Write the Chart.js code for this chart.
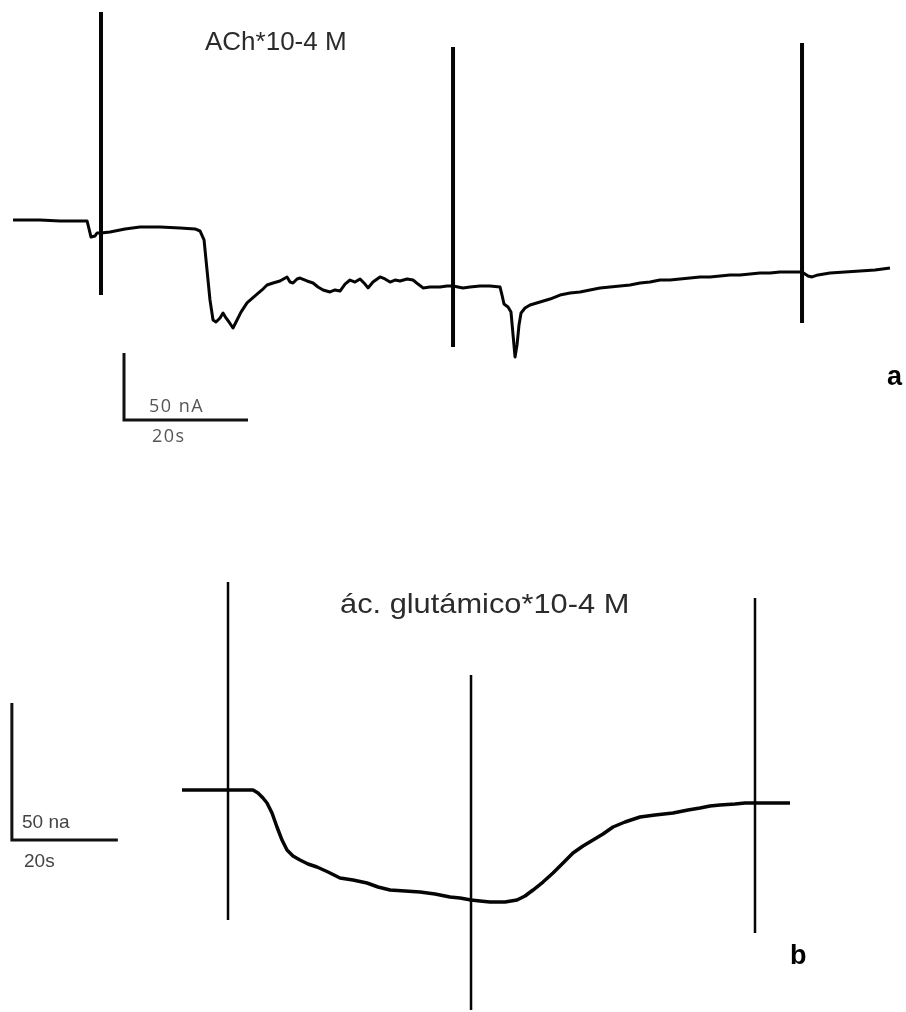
<!DOCTYPE html>
<html>
<head>
<meta charset="utf-8">
<script src="https://cdn.jsdelivr.net/npm/chart.js@4.4.0/dist/chart.umd.min.js"></script>
<style>
  body { margin: 0; background: #fff; }
  #page { position: relative; width: 906px; height: 1012px; overflow: hidden; }
  canvas { position: absolute; left: 0; }
  .lbl { position: absolute; white-space: nowrap; line-height: 1; font-family: "Liberation Sans", Arial, sans-serif; }
</style>
</head>
<body>
<div id="page">
  <canvas id="panelA" width="906" height="470" style="top:0"></canvas>
  <canvas id="panelB" width="906" height="542" style="top:470px"></canvas>

  <div class="lbl" style="left:205px; top:28px; font-size:26px; color:#2b2b2b;">ACh*10-4 M</div>
  <div class="lbl" style="left:149px; top:396px; font-size:18px; color:#555; font-family:'Open Sans',sans-serif; letter-spacing:1.5px;">50 nA</div>
  <div class="lbl" style="left:152px; top:426px; font-size:18px; color:#555; font-family:'Open Sans',sans-serif; letter-spacing:1.5px;">20s</div>
  <div class="lbl" style="left:887px; top:363px; font-size:27px; font-weight:bold; color:#000;">a</div>

  <div class="lbl" style="left:340px; top:590px; font-size:28px; color:#2b2b2b; transform:scaleX(1.1); transform-origin:left top;">ác. glutámico*10-4 M</div>
  <div class="lbl" style="left:22px; top:812px; font-size:19px; color:#444;">50 na</div>
  <div class="lbl" style="left:24px; top:851px; font-size:19px; color:#444;">20s</div>
  <div class="lbl" style="left:790px; top:942px; font-size:27px; font-weight:bold; color:#000;">b</div>
</div>

<script>
// --- panel a: ACh 10-4 M (time in s, current in nA, baseline = 0) ---
const achTime = [
  0, 4.35, 7.58, 11.94, 12.26, 12.58, 13.23, 13.55, 14.19, 15.65,
  18.06, 20.48, 23.71, 26.94, 29.35, 30.16, 30.81, 31.29, 31.77, 32.26,
  32.74, 33.39, 33.87, 34.35, 34.84, 35.48, 35.97, 36.77, 37.74, 39.03,
  40.16, 40.97, 41.94, 43.06, 44.19, 44.68, 45.16, 45.81, 46.29, 47.42,
  48.39, 49.19, 50.0, 51.13, 51.94, 52.74, 53.55, 54.35, 55.16, 55.97,
  56.77, 57.26, 58.06, 59.19, 60.0, 60.81, 61.61, 62.42, 63.55, 64.52,
  65.32, 66.13, 67.26, 68.87, 70.0, 70.97, 72.58, 73.71, 75.32, 76.94,
  78.55, 78.87, 79.19, 79.84, 80.32, 80.65, 80.97, 81.29, 81.61, 81.94,
  82.58, 83.39, 85.0, 86.61, 88.23, 89.84, 91.45, 93.06, 94.68, 96.29,
  97.90, 99.52, 101.13, 102.74, 104.35, 105.97, 107.58, 109.19, 110.81, 112.42,
  114.03, 115.65, 117.26, 118.87, 120.48, 122.10, 123.71, 125.32, 126.94, 127.26,
  128.23, 128.87, 129.84, 131.77, 134.19, 136.61, 139.03, 141.45
];
const achCurrent = [
  0, 0, -0.7, -0.7, -6.7, -12.7, -11.9, -9.7, -9.7, -9.0,
  -6.7, -5.2, -5.2, -6.0, -6.7, -8.2, -14.9, -37.3, -59.7, -74.6,
  -76.1, -73.1, -69.4, -73.1, -76.1, -80.6, -76.1, -68.7, -61.9, -56.7,
  -52.2, -48.5, -47.0, -45.5, -42.5, -46.3, -47.0, -44.0, -43.3, -45.5,
  -47.0, -50.0, -52.2, -53.7, -52.2, -53.0, -47.8, -44.8, -46.3, -44.0,
  -47.8, -50.7, -46.3, -42.5, -44.0, -46.3, -44.8, -45.5, -44.0, -44.8,
  -47.8, -50.7, -50.0, -50.0, -49.3, -49.3, -50.7, -50.0, -49.3, -49.3,
  -50.0, -56.0, -62.7, -64.9, -68.7, -85.8, -102.2, -93.3, -78.4, -69.4,
  -65.7, -63.4, -61.2, -59.0, -56.0, -54.5, -53.7, -52.2, -50.7, -50.0,
  -49.3, -48.5, -47.0, -46.3, -44.8, -44.8, -44.0, -43.3, -42.5, -42.5,
  -41.8, -41.0, -41.0, -40.3, -39.6, -39.6, -38.8, -38.8, -38.8, -38.8,
  -41.8, -42.5, -41.0, -39.6, -38.8, -38.1, -37.3, -35.8
];
// stimulus artefacts
const achSpikeTime = [14.19, 70.97, 127.26];
const achSpikeTop = [155.2, 129.1, 132.1];
const achSpikeBottom = [-56.0, -94.8, -76.9];
// calibration bar 50 nA / 20 s
const achBarTime = [17.9, 17.9, 37.9];
const achBarCurrent = [-99.3, -149.3, -149.3];

// --- panel b: glutamic acid 10-4 M ---
const gluTime = [
  0, 3.40, 8.68, 13.40, 14.34, 15.28, 16.04, 16.98, 17.92, 18.87,
  19.81, 20.94, 22.26, 23.77, 25.47, 27.55, 29.81, 32.26, 34.91, 36.98,
  39.25, 42.08, 44.91, 47.74, 50.57, 52.45, 54.53, 56.23, 58.11, 60.94,
  63.21, 64.72, 66.23, 68.11, 70.0, 71.89, 73.77, 75.66, 77.55, 79.43,
  81.32, 83.58, 86.42, 89.25, 92.64, 95.47, 97.74, 99.62, 101.51, 104.34,
  106.23, 108.11, 110.94, 114.72
];
const gluCurrent = [
  0, 0, 0, 0, -1.09, -2.92, -4.74, -8.39, -13.5, -18.25,
  -21.9, -24.09, -25.55, -27.01, -28.10, -29.93, -32.12, -32.85, -33.94, -35.40,
  -36.50, -36.86, -37.23, -37.96, -39.05, -39.42, -40.15, -40.51, -40.88, -40.88,
  -40.15, -38.69, -36.50, -33.58, -30.29, -26.64, -22.99, -20.44, -18.25, -16.06,
  -13.5, -11.68, -9.85, -9.12, -8.39, -7.30, -6.57, -5.84, -5.47, -5.11,
  -4.74, -4.74, -4.74, -4.74
];
const gluSpikeTime = [8.68, 54.53, 108.11];
const gluSpikeTop = [75.9, 42.0, 70.1];
const gluSpikeBottom = [-47.4, -80.3, -52.2];
const gluBarTime = [-32.1, -32.1, -12.1];
const gluBarCurrent = [31.75, -18.25, -18.25];

function toPoints(xs, ys) {
    return xs.map((x, i) => ({ x: x, y: ys[i] }));
}

// each artefact is a vertical segment, separated by a gap
function spikePoints(times, tops, bottoms) {
    let pts = [];
    times.forEach((t, i) => {
        pts.push({ x: t, y: tops[i] }, { x: t, y: bottoms[i] }, { x: t, y: null });
    });
    return pts;
}

function drawPanel(canvas, trace, spikes, bar, xRange, yRange, traceWidth, spikeWidth) {
    let ctx = canvas.getContext('2d');
    let chart = new Chart(ctx, {
        type: 'line',
        data: {
            datasets: [
                {
                    label: 'trace',
                    data: trace,
                    borderColor: '#050505',
                    borderWidth: traceWidth,
                    borderJoinStyle: 'round',
                    pointRadius: 0,
                    tension: 0,
                    fill: false,
                },
                {
                    label: 'stimulus',
                    data: spikes,
                    borderColor: '#050505',
                    borderWidth: spikeWidth,
                    borderCapStyle: 'butt',
                    pointRadius: 0,
                    spanGaps: false,
                    fill: false,
                },
                {
                    label: 'scale',
                    data: bar,
                    borderColor: '#111',
                    borderWidth: 3,
                    borderJoinStyle: 'miter',
                    pointRadius: 0,
                    tension: 0,
                    fill: false,
                }
            ]
        },
        options: {
            responsive: false,
            animation: false,
            devicePixelRatio: 1,
            events: [],
            layout: { padding: 0 },
            plugins: {
                legend: { display: false },
                tooltip: { enabled: false },
            },
            scales: {
                x: { type: 'linear', display: false, min: xRange[0], max: xRange[1] },
                y: { type: 'linear', display: false, min: yRange[0], max: yRange[1] },
            }
        }
    });
    canvas.chart = chart;
}

drawPanel(document.getElementById('panelA'),
    toPoints(achTime, achCurrent),
    spikePoints(achSpikeTime, achSpikeTop, achSpikeBottom),
    toPoints(achBarTime, achBarCurrent),
    [-2.10, 144.03], [-186.57, 164.18], 3, 4);

drawPanel(document.getElementById('panelB'),
    toPoints(gluTime, gluCurrent),
    spikePoints(gluSpikeTime, gluSpikeTop, gluSpikeBottom),
    toPoints(gluBarTime, gluBarCurrent),
    [-34.34, 136.60], [-81.02, 116.79], 3.5, 2.5);
</script>
</body>
</html>
